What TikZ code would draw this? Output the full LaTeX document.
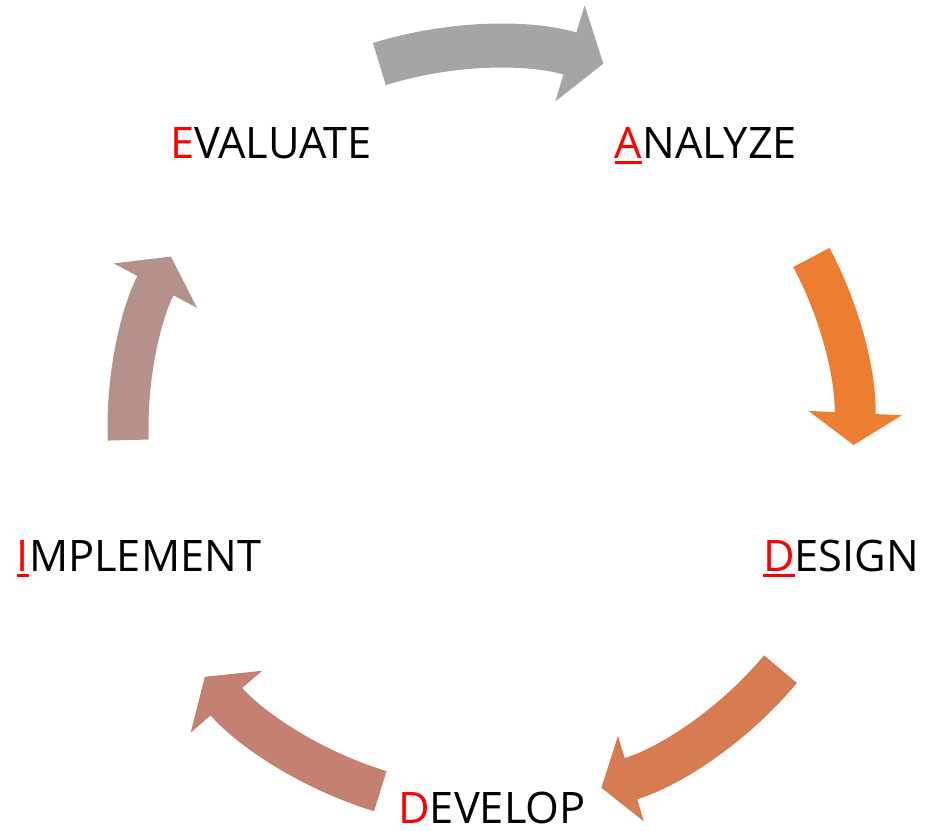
\documentclass[tikz,border=0pt]{standalone}
\usepackage{fontspec}
\setmainfont{Open Sans}
\usetikzlibrary{arrows.meta}

\definecolor{cyclegray}{HTML}{A5A5A5}
\definecolor{cycleorange}{HTML}{ED7D31}
\definecolor{cyclerust}{HTML}{D77B52}
\definecolor{cyclerose}{HTML}{C48070}
\definecolor{cyclemauve}{HTML}{B4928B}

\newcommand{\stagefont}{\fontsize{43.4}{52}\selectfont}
\newcommand{\redfirst}[1]{\textcolor{red}{#1}}
\newcommand{\redul}[1]{\textcolor{red}{\setbox0\hbox{#1}\rlap{\rule[-5pt]{\wd0}{2.8pt}}\box0}}

\tikzstyle{stage}=[anchor=base, inner sep=0pt, font=\stagefont]
\tikzstyle{cyclearrow}=[line width=42pt, -{Triangle[length=33pt,width=93pt]}]

\begin{document}
\begin{tikzpicture}[x=1pt,y=1pt]
  \useasboundingbox (0,0) rectangle (937,830);
  \coordinate (ctr) at (492,402);

  %% Stages
  \draw (706,671) node[stage] (A) {\redul{A}NALYZE};
  \draw (841,258) node[stage] (D1) {\redul{D}ESIGN};
  \draw (492,6) node[stage, text depth=0pt] (D2) {\redfirst{D}EVELOP};
  \draw (139,258) node[stage] (I) {\redul{I}MPLEMENT};
  \draw (271,671) node[stage] (E) {\redfirst{E}VALUATE};

  %% Arrows between stages
  \draw[cyclearrow, cyclegray, line width=44pt, -{Triangle[length=35pt,width=99pt]}]
    ([shift={(107.2:381)}]ctr) arc[start angle=107.2, end angle=73, radius=381];
  \draw[cyclearrow, cycleorange, line width=41pt, -{Triangle[length=32pt,width=92pt]}]
    ([shift={(28.1:362)}]ctr) arc[start angle=28.1, end angle=-2.7, radius=362];
  \draw[cyclearrow, cyclerust, line width=43pt, -{Triangle[length=31pt,width=88pt]}]
    ([shift={(-39.9:376)}]ctr) arc[start angle=-39.9, end angle=-73.1, radius=376];
  \draw[cyclearrow, cyclerose]
    ([shift={(252.9:380)}]ctr) arc[start angle=252.9, end angle=220.9, radius=380];
  \draw[cyclearrow, cyclemauve, line width=41pt]
    ([shift={(181.9:364)}]ctr) arc[start angle=181.9, end angle=151.9, radius=364];
\end{tikzpicture}
\end{document}
